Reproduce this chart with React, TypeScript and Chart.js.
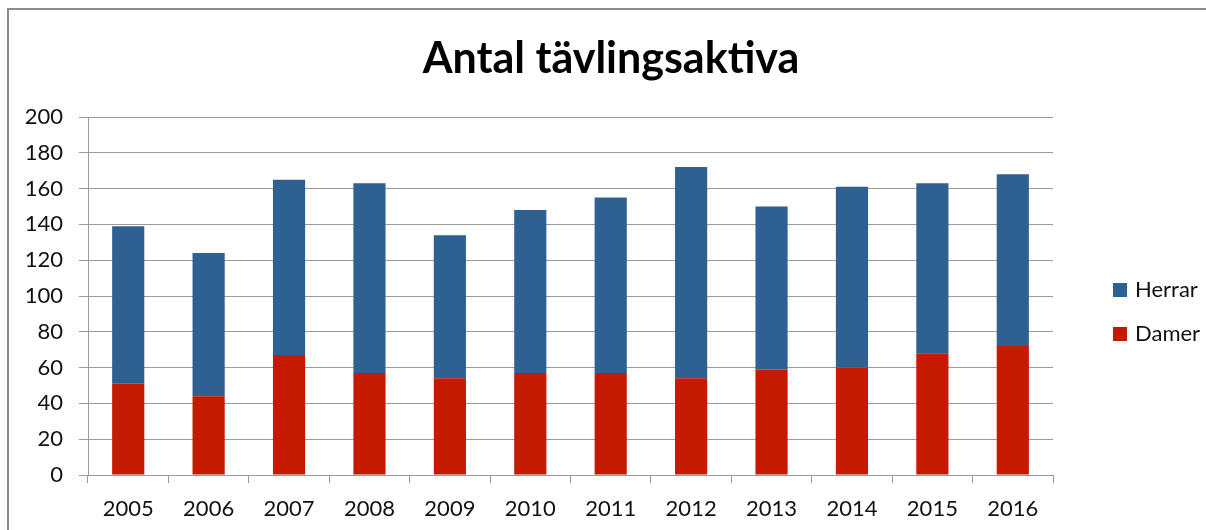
import React, { useEffect, useRef } from "react";
import { Chart, registerables } from "chart.js";

Chart.register(...registerables);

const categories = ["2005", "2006", "2007", "2008", "2009", "2010", "2011", "2012", "2013", "2014", "2015", "2016"];
const damer = [51, 44, 67, 57, 54, 57, 57, 54, 59, 60, 68, 72];
const herrar = [88, 80, 98, 106, 80, 91, 98, 118, 91, 101, 95, 96];
const titleText = "Antal tävlingsaktiva";
const seriesNames = { damer: "Damer", herrar: "Herrar" };
const colors = { damer: "#C41A00", herrar: "#2E6191" };

const FONT = "Lato, 'Open Sans', 'DejaVu Sans', sans-serif";
const GRID = "#9a9a9a";

const sideLegend = {
  id: "sideLegend",
  afterDraw(chart: any) {
    const { ctx, chartArea } = chart;
    const items = [...chart.data.datasets].reverse();
    const x = chartArea.right + 60;
    const midY = (chartArea.top + chartArea.bottom) / 2 + 16;
    const gap = 44;
    const startY = midY - ((items.length - 1) * gap) / 2;
    ctx.save();
    ctx.font = `22px ${FONT}`;
    ctx.textBaseline = "middle";
    ctx.textAlign = "left";
    items.forEach((ds: any, i: number) => {
      const y = startY + i * gap;
      ctx.fillStyle = ds.backgroundColor;
      ctx.fillRect(x, y - 7, 14, 14);
      ctx.fillStyle = "#111";
      ctx.fillText(ds.label, x + 22, y);
    });
    ctx.restore();
  },
};

export default function App() {
  const ref = useRef<HTMLCanvasElement | null>(null);

  useEffect(() => {
    if (!ref.current) return;
    const chart = new Chart(ref.current, {
      type: "bar",
      data: {
        labels: categories,
        datasets: [
          { label: seriesNames.damer, data: damer, backgroundColor: colors.damer, borderWidth: 0, yAxisID: "y" },
          { label: seriesNames.herrar, data: herrar, backgroundColor: colors.herrar, borderWidth: 0, yAxisID: "y" },
        ],
      },
      options: {
        responsive: false,
        animation: false,
        devicePixelRatio: 1,
        layout: { padding: { left: 16, top: 0, right: 0, bottom: 0 } },
        datasets: { bar: { barPercentage: 0.4, categoryPercentage: 1.0 } },
        plugins: {
          legend: { display: false },
          tooltip: { enabled: false },
          title: {
            display: true,
            text: titleText,
            color: "#000",
            font: { family: FONT, size: 43, weight: "bold" },
            padding: { top: 33, bottom: 32.4 },
          },
        },
        scales: {
          x: {
            stacked: true,
            offset: true,
            grid: { display: true, drawOnChartArea: false, drawTicks: true, tickLength: 8, color: GRID, offset: true },
            border: { display: true, color: GRID, width: 1 },
            ticks: { color: "#111", font: { family: FONT, size: 22 }, padding: 13, maxRotation: 0, autoSkip: false },
            afterFit: (s: any) => { s.height = 55; },
          },
          y: {
            stacked: true,
            min: 0,
            max: 200,
            position: "left",
            grid: { color: GRID, lineWidth: 1, tickLength: 9, drawTicks: true },
            border: { display: true, color: GRID, width: 1 },
            ticks: { stepSize: 20, color: "#111", font: { family: FONT, size: 22 }, padding: 16 },
            afterFit: (s: any) => { s.width = 72; },
          },
          yR: {
            type: "linear",
            position: "right",
            display: true,
            grid: { display: false, drawTicks: false },
            border: { display: false },
            ticks: { display: false },
            afterFit: (s: any) => { s.width = 153; },
          },
        },
      },
      plugins: [sideLegend],
    });
    return () => chart.destroy();
  }, []);

  return (
    <div style={{ position: "absolute", left: 0, top: 0, width: 1206, height: 530, overflow: "hidden", background: "#fff" }}>
      <canvas ref={ref} width={1206} height={530} style={{ position: "absolute", left: 0, top: 0 }} />
      <div
        style={{
          position: "absolute",
          left: 7,
          top: 8,
          width: 1300,
          height: 700,
          borderTop: "2px solid #8a8a8a",
          borderLeft: "2px solid #8a8a8a",
          pointerEvents: "none",
        }}
      />
    </div>
  );
}
